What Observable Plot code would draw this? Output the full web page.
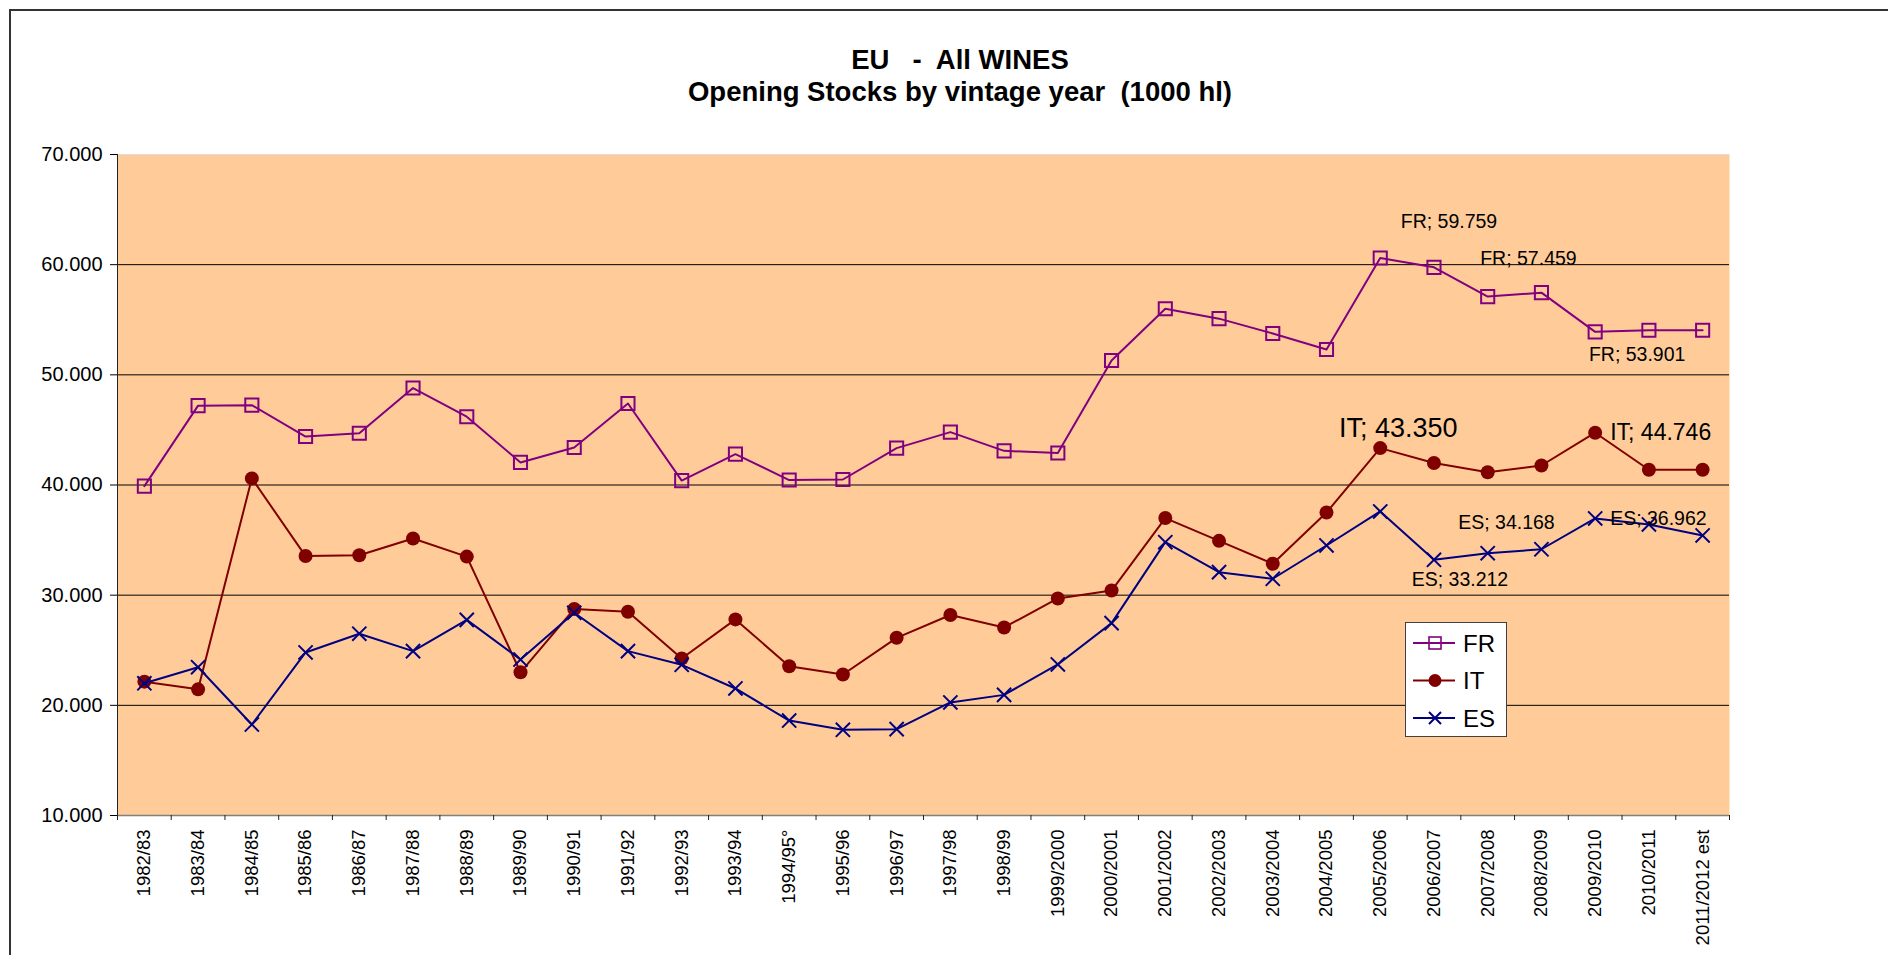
<!DOCTYPE html>
<html>
<head>
<meta charset="utf-8">
<script src="https://cdn.jsdelivr.net/npm/d3@7"></script>
<script src="https://cdn.jsdelivr.net/npm/@observablehq/plot@0.6"></script>
<style>
  html, body { margin: 0; padding: 0; background: #fff; overflow: hidden; }
  #wrap { position: relative; width: 1888px; height: 955px; font-family: "Liberation Sans", Arial, sans-serif; }
  #border { position: absolute; left: 9px; top: 9px; width: 1900px; height: 1000px; border-top: 2px solid #333; border-left: 2px solid #333; }
  #chart { position: absolute; left: 0; top: 0; }
  .title { position: absolute; left: 960px; transform: translateX(-50%); font-weight: bold; font-size: 27.5px; line-height: 1; white-space: pre; color: #000; }
  #legend { position: absolute; left: 1405px; top: 622px; }
</style>
</head>
<body>
<div id="wrap">
  <div id="border"></div>
  <div id="chart"></div>
  <div class="title" style="top:46px">EU   -  All WINES</div>
  <div class="title" style="top:78px">Opening Stocks by vintage year  (1000 hl)</div>
  <div id="legend"></div>
</div>
<script>
// ---- data ----
const categories = ["1982/83","1983/84","1984/85","1985/86","1986/87","1987/88","1988/89","1989/90","1990/91","1991/92","1992/93","1993/94","1994/95°","1995/96","1996/97","1997/98","1998/99","1999/2000","2000/2001","2001/2002","2002/2003","2003/2004","2004/2005","2005/2006","2006/2007","2007/2008","2008/2009","2009/2010","2010/2011","2011/2012 est"];
const frValues = [39900, 47200, 47250, 44400, 44700, 48800, 46200, 42050, 43400, 47400, 40400, 42800, 40450, 40500, 43350, 44800, 43100, 42900, 51300, 56000, 55100, 53750, 52300, 60600, 59759, 57100, 57459, 53901, 54050, 54050];
const itValues = [22150, 21450, 40600, 33550, 33630, 35150, 33500, 23000, 28750, 28500, 24250, 27800, 23550, 22800, 26130, 28200, 27070, 29700, 30420, 37000, 34930, 32850, 37500, 43350, 42000, 41160, 41770, 44746, 41380, 41380];
const esValues = [22000, 23460, 18260, 24800, 26500, 24920, 27760, 24160, 28400, 24920, 23680, 21530, 18620, 17780, 17840, 20260, 20950, 23710, 27460, 34810, 32090, 31490, 34510, 37600, 33212, 33810, 34168, 36962, 36420, 35420];
const yTicks = [10000, 20000, 30000, 40000, 50000, 60000, 70000];
const seriesNames = ["FR", "IT", "ES"];

// ---- build table ----
const table = categories.map((c, i) => ({i, cat: c, FR: frValues[i], IT: itValues[i], ES: esValues[i]}));
const fmt = d3.formatLocale({decimal: ",", thousands: ".", grouping: [3], currency: ["", ""]}).format(",.0f");

const colors = {FR: "#800080", IT: "#800000", ES: "#000080"};
const yMin = d3.min(yTicks), yMax = d3.max(yTicks);
const xDomain = [-0.5, categories.length - 0.5];
const boundaries = d3.range(categories.length + 1).map(k => k - 0.5);
const centers = d3.range(categories.length);

function label(series, cat, opts) {
  return Plot.text(table.filter(d => d.cat === cat), {
    x: "i", y: series, text: d => `${series}; ${fmt(d[series])}`,
    fill: "black", fontSize: 19.5, ...opts
  });
}

const chart = Plot.plot({
  width: 1888, height: 955,
  marginLeft: 117, marginRight: 159, marginTop: 154, marginBottom: 140,
  style: {background: "transparent", fontFamily: "'Liberation Sans', Arial, sans-serif", color: "black"},
  x: {type: "linear", domain: xDomain},
  y: {domain: [yMin, yMax]},
  marks: [
    Plot.frame({fill: "#FFCC99", stroke: "none"}),
    Plot.ruleY(yTicks.filter(v => v > yMin && v < yMax), {stroke: "black", strokeWidth: 1}),
    Plot.ruleY([yMax], {stroke: "#dddddd"}),
    Plot.ruleY([yMin], {stroke: "#808080", strokeWidth: 1.5}),
    Plot.ruleX([xDomain[0]], {stroke: "#222"}),
    Plot.axisY(yTicks, {anchor: "left", label: null, tickSize: 7, tickPadding: 8, fontSize: 20, tickFormat: fmt, color: "black"}),
    Plot.axisX(boundaries, {anchor: "bottom", label: null, tickSize: 5, tickFormat: () => "", color: "#222"}),
    Plot.axisX(centers, {anchor: "bottom", label: null, tickSize: 0, tickPadding: 14, tickRotate: -90, fontSize: 18.5, tickFormat: i => categories[i], color: "black"}),
    // FR
    Plot.line(table, {x: "i", y: "FR", stroke: colors.FR, strokeWidth: 2}),
    Plot.dot(table, {x: "i", y: "FR", symbol: "square", r: 7.4, stroke: colors.FR, strokeWidth: 2, fill: "none"}),
    // IT
    Plot.line(table, {x: "i", y: "IT", stroke: colors.IT, strokeWidth: 2}),
    Plot.dot(table, {x: "i", y: "IT", symbol: "circle", r: 7, fill: colors.IT, stroke: "none"}),
    // ES
    Plot.line(table, {x: "i", y: "ES", stroke: colors.ES, strokeWidth: 2}),
    Plot.dot(table, {x: "i", y: "ES", symbol: "times", r: 6.5, stroke: colors.ES, strokeWidth: 2}),
    // data labels
    label("FR", "2006/2007", {dx: 15, dy: -46}),
    label("FR", "2008/2009", {dx: -13, dy: -34}),
    label("FR", "2009/2010", {dx: 42, dy: 23}),
    label("IT", "2005/2006", {dx: 18, dy: -20, fontSize: 27}),
    label("IT", "2009/2010", {dx: 15, dy: 0, textAnchor: "start", fontSize: 23}),
    label("ES", "2006/2007", {dx: 26, dy: 20}),
    label("ES", "2008/2009", {dx: -35, dy: -26}),
    label("ES", "2009/2010", {dx: 15, dy: 0, textAnchor: "start"})
  ]
});
document.getElementById("chart").appendChild(chart);

// ---- legend ----
const W = 102, H = 115, rowY = [21, 58.5, 96];
const lsvg = d3.create("svg").attr("width", W).attr("height", H).style("display", "block").style("font-family", "'Liberation Sans', Arial, sans-serif");
lsvg.append("rect").attr("x", 0.5).attr("y", 0.5).attr("width", W - 1).attr("height", H - 1).attr("fill", "white").attr("stroke", "#404040");
seriesNames.forEach((s, k) => {
  const g = lsvg.append("g").attr("transform", `translate(0,${rowY[k]})`);
  g.append("line").attr("x1", 8).attr("x2", 50).attr("stroke", colors[s]).attr("stroke-width", 2);
  if (s === "FR") g.append("rect").attr("x", 24).attr("y", -6).attr("width", 12).attr("height", 12).attr("fill", "none").attr("stroke", colors[s]).attr("stroke-width", 1.6);
  if (s === "IT") g.append("circle").attr("cx", 30).attr("r", 6.5).attr("fill", colors[s]);
  if (s === "ES") g.append("path").attr("d", "M24,-6L36,6M24,6L36,-6").attr("stroke", colors[s]).attr("stroke-width", 2);
  g.append("text").attr("x", 58).attr("dy", "0.36em").attr("font-size", 24).attr("fill", "black").text(s);
});
document.getElementById("legend").appendChild(lsvg.node());
</script>
</body>
</html>
